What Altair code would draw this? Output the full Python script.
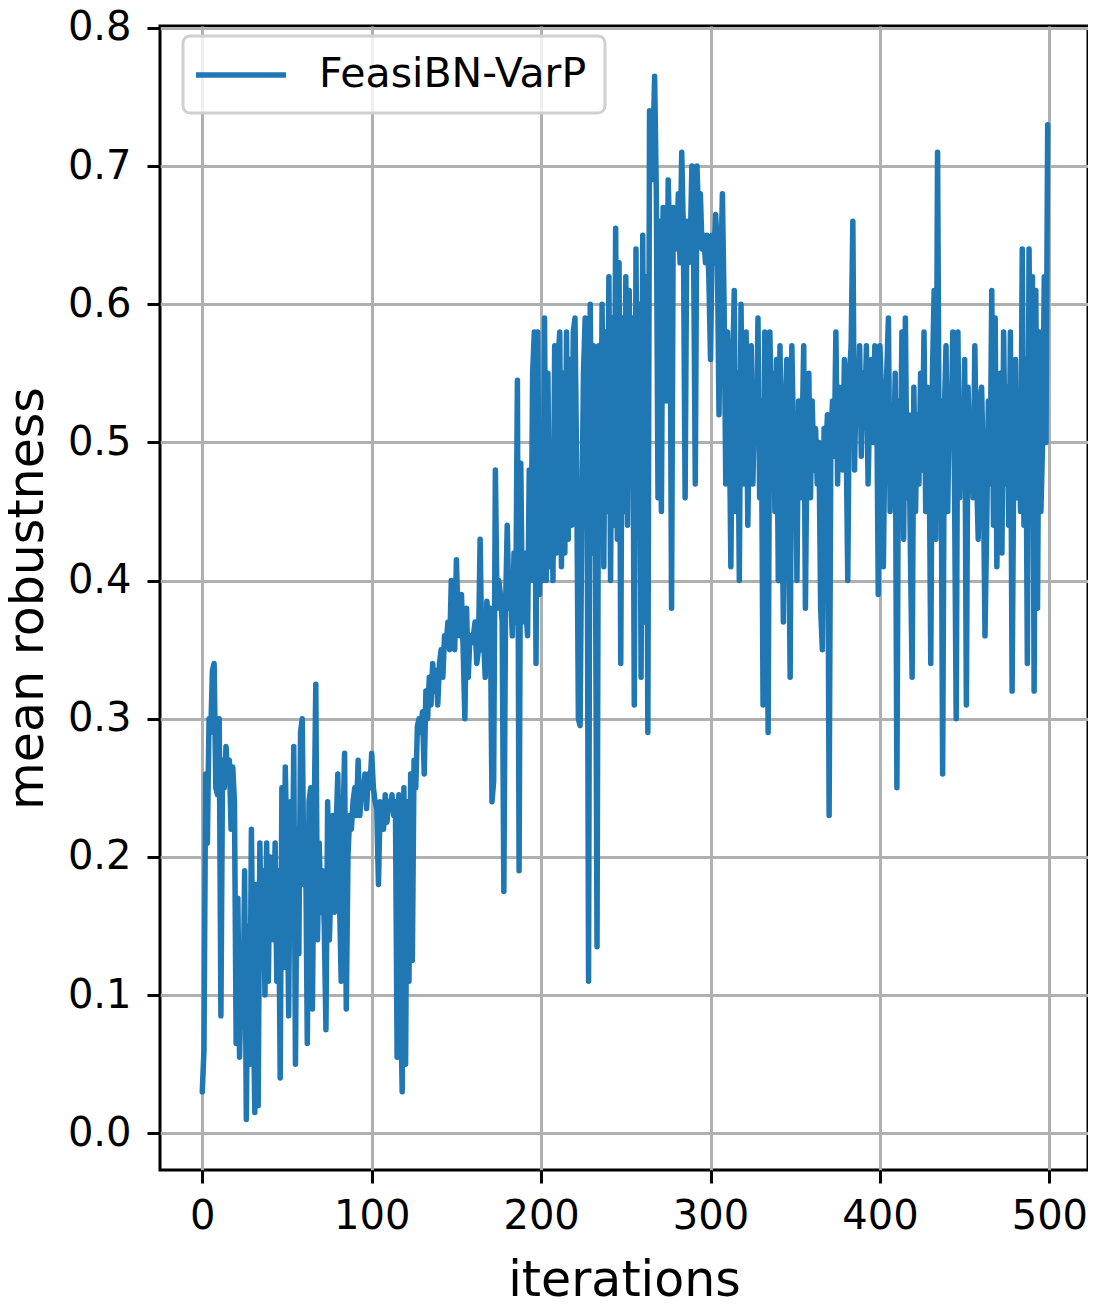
import altair as alt
import pandas as pd

series_name = "FeasiBN-VarP"
x_ticks = [0, 100, 200, 300, 400, 500]
y_ticks = [0.0, 0.1, 0.2, 0.3, 0.4, 0.5, 0.6, 0.7, 0.8]

robustness = [
    0.03, 0.06, 0.26, 0.21, 0.30, 0.29, 0.335, 0.34, 0.25, 0.245,
    0.30, 0.085, 0.27, 0.25, 0.28, 0.26, 0.27, 0.22, 0.265, 0.24,
    0.065, 0.17, 0.055, 0.11, 0.08, 0.19, 0.01, 0.15, 0.05, 0.22,
    0.11, 0.015, 0.18, 0.02, 0.21, 0.12, 0.19, 0.10, 0.21, 0.11,
    0.20, 0.15, 0.14, 0.21, 0.11, 0.19, 0.04, 0.25, 0.12, 0.265,
    0.20, 0.085, 0.24, 0.15, 0.28, 0.05, 0.22, 0.13, 0.29, 0.30,
    0.18, 0.21, 0.065, 0.24, 0.25, 0.09, 0.22, 0.325, 0.14, 0.21,
    0.16, 0.19, 0.15, 0.075, 0.24, 0.14, 0.18, 0.23, 0.16, 0.22,
    0.26, 0.17, 0.11, 0.22, 0.275, 0.09, 0.20, 0.23, 0.22, 0.24,
    0.25, 0.23, 0.27, 0.23, 0.25, 0.245, 0.26, 0.235, 0.26, 0.25,
    0.275, 0.25, 0.24, 0.235, 0.18, 0.24, 0.23, 0.22, 0.245, 0.225,
    0.24, 0.235, 0.245, 0.23, 0.24, 0.055, 0.245, 0.10, 0.03, 0.25,
    0.05, 0.24, 0.11, 0.26, 0.125, 0.27, 0.25, 0.295, 0.30, 0.29,
    0.305, 0.26, 0.32, 0.30, 0.33, 0.31, 0.34, 0.32, 0.335, 0.31,
    0.34, 0.35, 0.33, 0.36, 0.355, 0.37, 0.35, 0.40, 0.37, 0.35,
    0.415, 0.37, 0.36, 0.39, 0.35, 0.30, 0.38, 0.33, 0.36, 0.355,
    0.36, 0.37, 0.34, 0.35, 0.43, 0.35, 0.36, 0.33, 0.385, 0.37,
    0.38, 0.24, 0.255, 0.48, 0.38, 0.40, 0.39, 0.37, 0.175, 0.38,
    0.44, 0.38, 0.395, 0.36, 0.42, 0.37, 0.545, 0.19, 0.485, 0.37,
    0.42, 0.38, 0.36, 0.48, 0.40, 0.55, 0.58, 0.34, 0.58, 0.39,
    0.45, 0.40, 0.59, 0.40, 0.55, 0.41, 0.49, 0.40, 0.57, 0.42,
    0.56, 0.58, 0.41, 0.55, 0.42, 0.58, 0.43, 0.56, 0.44, 0.58,
    0.59, 0.48, 0.30, 0.295, 0.44, 0.55, 0.59, 0.55, 0.11, 0.60,
    0.42, 0.57, 0.45, 0.135, 0.57, 0.43, 0.60, 0.41, 0.58, 0.45,
    0.62, 0.40, 0.59, 0.44, 0.655, 0.43, 0.63, 0.34, 0.59, 0.45,
    0.62, 0.44, 0.61, 0.47, 0.59, 0.31, 0.64, 0.45, 0.60, 0.33,
    0.65, 0.37, 0.62, 0.29, 0.74, 0.69, 0.71, 0.765, 0.68, 0.46,
    0.66, 0.45, 0.67, 0.64, 0.53, 0.69, 0.64, 0.38, 0.67, 0.65,
    0.64, 0.68, 0.63, 0.71, 0.65, 0.46, 0.66, 0.63, 0.64, 0.70,
    0.64, 0.47, 0.70, 0.66, 0.68, 0.64, 0.65, 0.63, 0.65, 0.62,
    0.56, 0.65, 0.63, 0.665, 0.64, 0.52, 0.62, 0.68, 0.60, 0.47,
    0.58, 0.53, 0.41, 0.55, 0.61, 0.45, 0.55, 0.40, 0.60, 0.47,
    0.54, 0.58, 0.44, 0.52, 0.57, 0.47, 0.53, 0.50, 0.59, 0.46,
    0.53, 0.31, 0.58, 0.48, 0.29, 0.58, 0.52, 0.55, 0.45, 0.56,
    0.40, 0.57, 0.47, 0.37, 0.52, 0.56, 0.46, 0.33, 0.57, 0.50,
    0.52, 0.40, 0.53, 0.46, 0.50, 0.57, 0.38, 0.51, 0.55, 0.46,
    0.53, 0.48, 0.51, 0.47, 0.50, 0.38, 0.35, 0.51, 0.49, 0.52,
    0.23, 0.50, 0.53, 0.49, 0.58, 0.47, 0.54, 0.50, 0.48, 0.56,
    0.51, 0.40, 0.55, 0.57, 0.66, 0.48, 0.55, 0.52, 0.57, 0.49,
    0.55, 0.51, 0.57, 0.47, 0.53, 0.56, 0.50, 0.57, 0.55, 0.39,
    0.57, 0.53, 0.41, 0.51, 0.55, 0.59, 0.45, 0.52, 0.48, 0.55,
    0.25, 0.53, 0.48, 0.58, 0.43, 0.59, 0.46, 0.52, 0.42, 0.33,
    0.54, 0.45, 0.52, 0.47, 0.55, 0.48, 0.58, 0.45, 0.54, 0.50,
    0.34, 0.55, 0.61, 0.43, 0.71, 0.48, 0.53, 0.26, 0.52, 0.57,
    0.45, 0.54, 0.50, 0.58, 0.47, 0.30, 0.58, 0.46, 0.52, 0.48,
    0.56, 0.31, 0.54, 0.49, 0.50, 0.46, 0.57, 0.48, 0.43, 0.53,
    0.54, 0.48, 0.36, 0.44, 0.53, 0.47, 0.61, 0.44, 0.59, 0.41,
    0.50, 0.55, 0.42, 0.58, 0.47, 0.54, 0.44, 0.58, 0.32, 0.49,
    0.56, 0.46, 0.52, 0.45, 0.64, 0.44, 0.56, 0.34, 0.64, 0.48,
    0.62, 0.32, 0.61, 0.38, 0.58, 0.45, 0.50, 0.62, 0.50, 0.73,
]
iterations = list(range(len(robustness)))

df = pd.DataFrame({"iteration": iterations, "robustness": robustness,
                   "series": [series_name] * len(robustness)})

FONT = "DejaVu Sans"

chart = alt.Chart(df).mark_line(strokeWidth=5.5, clip=True, strokeJoin="round", strokeCap="round").encode(
    x=alt.X("iteration:Q",
            scale=alt.Scale(domain=[-24.95, 522.8], nice=False, zero=False),
            axis=alt.Axis(title="iterations", values=x_ticks, format="d",
                          labelPadding=13, titlePadding=20)),
    y=alt.Y("robustness:Q",
            scale=alt.Scale(domain=[-0.0266, 0.8014], nice=False, zero=False),
            axis=alt.Axis(title="mean robustness", values=y_ticks, format=".1f",
                          labelPadding=16, titlePadding=15)),
    color=alt.Color("series:N",
                    scale=alt.Scale(domain=[series_name], range=["#1f77b4"]),
                    legend=alt.Legend(title=None, orient="none", legendX=23, legendY=10,
                                      symbolType="M-2.5,0L2.5,0", symbolSize=1296,
                                      symbolOffset=19, symbolStrokeWidth=5.5,
                                      labelFontSize=41, labelLimit=0,
                                      labelFont=FONT, labelOffset=57,
                                      padding=18, cornerRadius=7,
                                      strokeColor="#d0d0d0", fillColor="rgba(255,255,255,0.8)",
                                      labelColor="black")),
).properties(
    width=928, height=1144,
    autosize=alt.AutoSizeParams(type="none"),
    padding={"left": 152, "top": 18, "right": 0, "bottom": 132},
).configure_view(
    stroke="black", strokeWidth=3,
).configure_axis(
    labelFont=FONT, titleFont=FONT, labelFontSize=40, titleFontSize=49,
    titleFontWeight="normal", labelColor="black", titleColor="black",
    grid=True, gridColor="#b0b0b0", gridWidth=3,
    domain=False, tickColor="black", tickWidth=3, tickSize=13,
    labelFlush=False, labelOverlap=False,
).configure_legend(
    strokeWidth=3,
)

chart.save("out.html", embed_options={"renderer": "svg", "actions": False})
